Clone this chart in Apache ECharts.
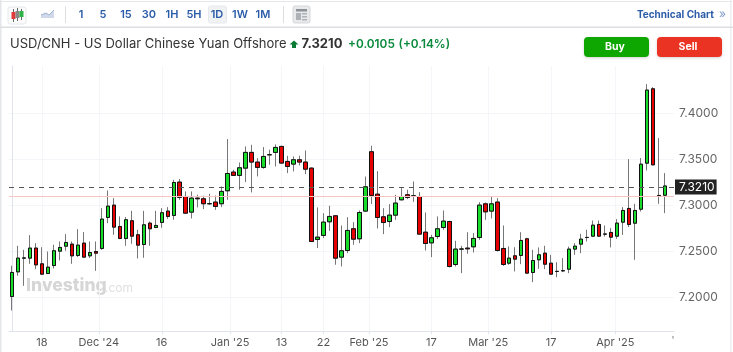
<!DOCTYPE html>
<html>
<head>
<meta charset="utf-8">
<style>
  html, body { margin: 0; padding: 0; background: #fff; }
  #main { width: 733px; height: 352px; }
</style>
<script src="https://cdn.jsdelivr.net/npm/echarts@6/dist/echarts.min.js"></script>
</head>
<body>
<div id="main"></div>
<script>
const opens = [7.2009,7.2277,7.2426,7.2426,7.2535,7.2364,7.2259,7.2346,7.2502,7.2556,
  7.2578,7.2455,7.2589,7.2451,7.2498,7.2531,7.2868,7.3002,7.2770,7.2640,
  7.2832,7.2680,7.2574,7.2806,7.2759,7.2814,7.2937,7.2890,7.3252,7.3096,
  7.2926,7.3078,7.3071,7.3017,7.3035,7.3017,7.3158,7.3361,7.3325,7.3404,
  7.3575,7.3470,7.3412,7.3549,7.3575,7.3640,7.3477,7.3448,7.3495,7.3470,
  7.3404,7.2629,7.2673,7.2821,7.2886,7.2437,7.2509,7.2745,7.2636,7.2937,
  7.3582,7.3121,7.2875,7.2824,7.2893,7.3060,7.3114,7.3103,7.3096,7.2708,
  7.2592,7.2661,7.2759,7.2824,7.2357,7.2524,7.2535,7.2549,7.2650,7.3016,
  7.2937,7.3035,7.2531,7.2371,7.2451,7.2455,7.2636,7.2270,7.2408,7.2480,
  7.2371,7.2281,7.2288,7.2306,7.2524,7.2578,7.2650,7.2665,7.2792,7.2687,
  7.2705,7.2665,7.2817,7.2966,7.2806,7.2958,7.3458,7.4266,7.3107,7.3110];
const closes = [7.2270,7.2426,7.2428,7.2535,7.2353,7.2252,7.2328,7.2506,7.2542,7.2596,
  7.2451,7.2567,7.2437,7.2487,7.2480,7.2850,7.2991,7.2763,7.2640,7.2843,
  7.2665,7.2567,7.2788,7.2745,7.2781,7.2919,7.2879,7.3248,7.3086,7.2915,
  7.3078,7.3071,7.3017,7.3018,7.2988,7.3151,7.3346,7.3325,7.3408,7.3575,
  7.3470,7.3412,7.3531,7.3550,7.3629,7.3459,7.3422,7.3495,7.3470,7.3393,
  7.2607,7.2654,7.2817,7.2879,7.2426,7.2506,7.2727,7.2632,7.2922,7.3201,
  7.3107,7.2868,7.2813,7.2893,7.3024,7.3096,7.3085,7.3102,7.2687,7.2585,
  7.2647,7.2745,7.2828,7.2335,7.2524,7.2525,7.2527,7.2640,7.3002,7.2929,
  7.3016,7.2509,7.2357,7.2426,7.2415,7.2618,7.2263,7.2400,7.2462,7.2360,
  7.2252,7.2282,7.2290,7.2524,7.2556,7.2632,7.2651,7.2784,7.2665,7.2688,
  7.2654,7.2806,7.2944,7.2792,7.2944,7.3447,7.4252,7.3440,7.3100,7.3210];
const lows = [7.1857,7.2234,7.2125,7.2364,7.2306,7.2241,7.2252,7.2314,7.2401,7.2506,
  7.2364,7.2437,7.2426,7.2426,7.2288,7.2516,7.2806,7.2680,7.2632,7.2560,
  7.2582,7.2422,7.2430,7.2560,7.2752,7.2756,7.2853,7.2843,7.3060,7.2908,
  7.2857,7.2977,7.2959,7.3006,7.2951,7.2980,7.3060,7.3321,7.3169,7.3252,
  7.3140,7.3314,7.3397,7.3441,7.3422,7.3451,7.3350,7.3368,7.3433,7.3339,
  7.2600,7.2535,7.2644,7.2723,7.2354,7.2336,7.2480,7.2571,7.2589,7.2929,
  7.3013,7.2748,7.2687,7.2763,7.2842,7.3053,7.3067,7.3038,7.2679,7.2509,
  7.2437,7.2636,7.2734,7.2324,7.2335,7.2263,7.2473,7.2487,7.2625,7.2842,
  7.2857,7.2498,7.2342,7.2353,7.2281,7.2360,7.2255,7.2165,7.2310,7.2306,
  7.2245,7.2219,7.2274,7.2263,7.2462,7.2480,7.2607,7.2654,7.2661,7.2661,
  7.2542,7.2636,7.2679,7.2763,7.2408,7.2933,7.3379,7.3433,7.3016,7.2915];
const highs = [7.2343,7.2560,7.2516,7.2676,7.2589,7.2545,7.2498,7.2571,7.2607,7.2687,
  7.2607,7.2741,7.2709,7.2607,7.2607,7.2969,7.3161,7.3078,7.2879,7.2872,
  7.2940,7.2734,7.2940,7.2824,7.2940,7.2969,7.2980,7.3277,7.3285,7.3151,
  7.3151,7.3115,7.3104,7.3125,7.3107,7.3205,7.3720,7.3386,7.3466,7.3640,
  7.3658,7.3513,7.3633,7.3604,7.3662,7.3647,7.3538,7.3531,7.3538,7.3596,
  7.3412,7.2977,7.2915,7.2995,7.2894,7.2781,7.2871,7.2817,7.2944,7.3313,
  7.3647,7.3371,7.2969,7.3013,7.3114,7.3187,7.3169,7.3259,7.3143,7.2922,
  7.2679,7.2879,7.2944,7.2832,7.2614,7.2560,7.2708,7.2698,7.3035,7.3031,
  7.3096,7.3078,7.2781,7.2553,7.2545,7.2708,7.2647,7.2516,7.2542,7.2560,
  7.2462,7.2382,7.2426,7.2552,7.2589,7.2690,7.2734,7.2835,7.2835,7.2781,
  7.2752,7.2850,7.2980,7.3502,7.3016,7.3513,7.4317,7.4284,7.3730,7.3350];

const xTickPos = [5, 14.5, 25, 36.4, 45, 52, 59.6, 70, 79.5, 90, 100.7];
const xTickLabels = ['18', "Dec '24", '16', "Jan '25", '13', '22', "Feb '25", '17', "Mar '25", '17', "Apr '25"];
const yTicks = [7.2, 7.25, 7.3, 7.35, 7.4];
const lastPrice = 7.3210;
const prevClose = 7.3105;
const intervals = ['1', '5', '15', '30', '1H', '5H', '1D', '1W', '1M'];
const intervalX = [81, 103, 126, 149, 172, 194, 217, 240, 263];

const GREEN = '#17dc2a', RED = '#e60000';
const BLUE = '#2a5ca8';
const FONT = 'Inter, "Noto Sans", sans-serif';

// wick layer uses full range, body layer only open/close so it has no wick
const wickData = opens.map((o, i) => [i, o, closes[i], lows[i], highs[i]]);
const bodyData = opens.map((o, i) => [i, o, closes[i], Math.min(o, closes[i]), Math.max(o, closes[i])]);

function txt(x, y, text, size, color, weight, align) {
  return { type: 'text', silent: true, z: 10, style: { x, y, text, fontSize: size, fill: color,
    fontWeight: weight || 400, fontFamily: FONT, align: align || 'left', verticalAlign: 'middle' } };
}
function box(x, y, w, h, fill, r, extra) {
  return { type: 'rect', silent: true, z: 10, shape: { x, y, width: w, height: h, r: r || 0 },
    style: Object.assign({ fill }, extra || {}) };
}

const header = [
  // frame
  box(0, 0, 1.5, 352, '#e4e6ea'),
  box(1, 1, 731, 1, '#e4e6ea'),
  box(730, 0, 1.5, 352, '#eceef1'),
  box(0, 26.5, 733, 1.5, '#dcdee2'),
  // candle icon
  box(8, 7, 18, 17, '#fbfbfb', 2, { stroke: '#e6e8ec', lineWidth: 1 }),
  box(13, 9, 1, 13, '#666'), box(17, 8, 1, 13, '#666'), box(21, 9, 1, 11, '#666'),
  box(11.5, 12, 4, 7, '#e03a3a'), box(15.5, 11, 4, 7, '#888'), box(19.5, 11, 4, 6, '#2fb344'),
  // line icon
  { type: 'polygon', silent: true, z: 10, shape: { points: [[41, 15], [46, 13], [49, 15], [54, 10], [54, 18], [41, 18]] },
    style: { fill: '#cfd9ea' } },
  { type: 'polyline', silent: true, z: 10, shape: { points: [[41, 15], [46, 13], [49, 15], [54, 10]] },
    style: { stroke: '#9db2d4', fill: null, lineWidth: 1 } },
  box(65, 6, 1, 17, '#dcdee2'), box(283, 6, 1, 17, '#dcdee2'),
  box(208.5, 6, 18, 17, '#f1f2f4', 2, { stroke: '#e6e8ec', lineWidth: 1 }),
  // news icon
  box(293, 6, 17, 17, '#e8e9eb', 2, { stroke: '#d5d7da', lineWidth: 1 }),
  box(296, 9, 11, 2.5, '#8f9296'), box(296, 13, 5, 7, '#aeb1b5'), box(302, 13, 5, 1.5, '#aeb1b5'),
  box(302, 16, 5, 1.5, '#aeb1b5'), box(302, 19, 5, 1.5, '#aeb1b5'),
  txt(714, 14.5, 'Technical Chart', 10, BLUE, 700, 'right'),
  txt(719, 14, '»', 12, '#7f9cc9', 400),
  // quote line
  txt(10, 44.5, 'USD/CNH - US Dollar Chinese Yuan Offshore', 13, '#333', 400),
  { type: 'polygon', silent: true, z: 10, shape: { points: [[294, 40.5], [298.5, 44.5], [296, 44.5], [296, 48], [292, 48], [292, 44.5], [289.5, 44.5]] },
    style: { fill: '#0a7a35' } },
  txt(301.5, 44.5, lastPrice.toFixed(4), 13, '#333', 700),
  txt(348, 44.5, '+0.0105', 11.8, '#0a8a3c', 600),
  txt(398.5, 44.5, '(+0.14%)', 11.8, '#0a8a3c', 600),
  box(584, 37, 65, 20, '#0ea600', 4, { shadowBlur: 3, shadowColor: 'rgba(0,0,0,0.18)', shadowOffsetY: 1 }),
  txt(615, 47, 'Buy', 10.5, '#fff', 700, 'center'),
  box(657, 37, 65, 20, '#ea3323', 4, { shadowBlur: 3, shadowColor: 'rgba(0,0,0,0.18)', shadowOffsetY: 1 }),
  txt(688, 47, 'Sell', 10.5, '#fff', 700, 'center'),
  // stray end of the clipped next tick label
  txt(673, 341, "'", 10, '#777', 400, 'center')
];
intervals.forEach((t, i) => header.push(txt(intervalX[i], 14.5, t, 11, BLUE, 600, 'center')));

const watermark = [
  { type: 'text', silent: true, z: 0, style: { x: 26, y: 286, text: 'Investing', fontSize: 17.5, fontWeight: 800,
    fontFamily: FONT, fill: '#d6d6d6', verticalAlign: 'middle' } },
  { type: 'text', silent: true, z: 0, style: { x: 105, y: 288, text: '.com', fontSize: 12, fontFamily: FONT,
    fill: '#e0e0e0', verticalAlign: 'middle' } }
];

const myChart = echarts.init(document.getElementById('main'));
myChart.setOption({
  animation: false,
  backgroundColor: '#fff',
  textStyle: { fontFamily: FONT },
  graphic: { elements: watermark.concat(header) },
  grid: { left: 9, right: 59, top: 66, bottom: 21 },
  xAxis: {
    type: 'value', min: -0.5, max: 110.5,
    axisLine: { lineStyle: { color: '#e0e3eb' } },
    axisTick: { show: true, customValues: xTickPos, length: 3, lineStyle: { color: '#e0e3eb' } },
    splitLine: { show: true, lineStyle: { color: '#f4f5f8' } },
    axisLabel: {
      customValues: xTickPos, color: '#555', fontSize: 11, margin: 6,
      formatter: (v) => xTickLabels[xTickPos.indexOf(v)]
    }
  },
  yAxis: {
    type: 'value', position: 'right', min: 7.1634, max: 7.4514, scale: true,
    axisLine: { show: true, lineStyle: { color: '#e0e3eb' } },
    axisTick: { show: false, customValues: yTicks },
    splitLine: { show: true, lineStyle: { color: '#f4f5f8' } },
    axisLabel: { customValues: yTicks, color: '#666', fontSize: 12, margin: 5, formatter: (v) => v.toFixed(4) }
  },
  series: [{
    type: 'candlestick', name: 'wick', data: wickData, barWidth: 4, z: 2,
    encode: { x: 0, y: [1, 2, 3, 4] },
    itemStyle: { color: GREEN, color0: RED, borderColor: '#777', borderColor0: '#777', borderWidth: 1 },
    markLine: {
      silent: true, symbol: 'none',
      data: [
        {
          yAxis: prevClose,
          lineStyle: { color: '#f7c4c4', type: 'solid', width: 1 },
          label: { show: false }
        },
        {
          // drawn a hair above 7.3210, the reference's line sits there
          yAxis: lastPrice + 0.0012,
          lineStyle: { color: '#555', type: [5, 5], width: 1 },
          label: {
            show: true, position: 'end', distance: 1, formatter: () => lastPrice.toFixed(4),
            color: '#fff', backgroundColor: '#222', fontSize: 12, padding: [2, 2, 1, 4]
          }
        }
      ]
    }
  }, {
    type: 'candlestick', name: 'body', data: bodyData, barWidth: 4, z: 3,
    encode: { x: 0, y: [1, 2, 3, 4] },
    itemStyle: { color: GREEN, color0: RED, borderColor: '#111', borderColor0: '#111', borderWidth: 1 }
  }]
});
</script>
</body>
</html>
